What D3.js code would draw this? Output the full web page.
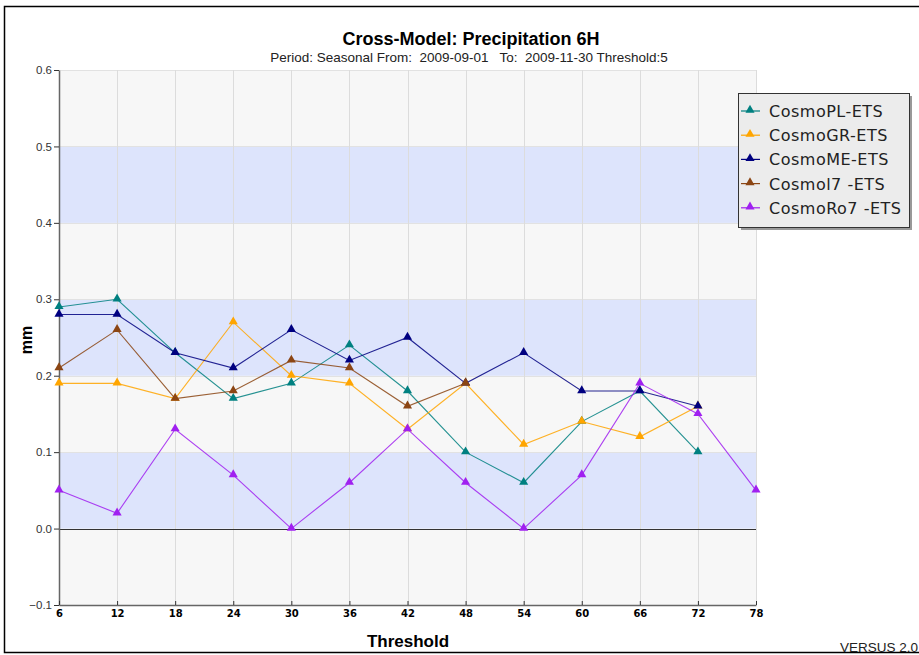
<!DOCTYPE html>
<html><head><meta charset="utf-8">
<script src="https://cdn.jsdelivr.net/npm/d3@7/dist/d3.min.js"></script>
<style>body{margin:0;background:#fff}svg{display:block}text{white-space:pre}</style>
</head><body>
<script>
const thresholds = [6,12,18,24,30,36,42,48,54,60,66,72,78];
const seriesNames = ["CosmoPL-ETS","CosmoGR-ETS","CosmoME-ETS","Cosmol7 -ETS","CosmoRo7 -ETS"];
const seriesColors = ["#008080","#ffa500","#000080","#8b4513","#a020f0"];
const cosmoPL  = [0.29,0.30,0.23,0.17,0.19,0.24,0.18,0.10,0.06,0.14,0.18,0.10,null];
const cosmoGR  = [0.19,0.19,0.17,0.27,0.20,0.19,0.13,0.19,0.11,0.14,0.12,0.16,null];
const cosmoME  = [0.28,0.28,0.23,0.21,0.26,0.22,0.25,0.19,0.23,0.18,0.18,0.16,null];
const cosmoI7  = [0.21,0.26,0.17,0.18,0.22,0.21,0.16,0.19,null,null,null,null,null];
const cosmoRo7 = [0.05,0.02,0.13,0.07,0.00,0.06,0.13,0.06,0.00,0.07,0.19,0.15,0.05];
const seriesValues = [cosmoPL, cosmoGR, cosmoME, cosmoI7, cosmoRo7];
const yTicks = [-0.1,0.0,0.1,0.2,0.3,0.4,0.5,0.6];
const bands = [[0,0.1],[0.2,0.3],[0.4,0.5]];

const W=919,H=655;
const svg=d3.select("body").append("svg").attr("width",W).attr("height",H);
const L=59,R=756,T=70,B=605;
const x=d3.scaleLinear().domain([6,78]).range([L,R]);
const y=d3.scaleLinear().domain([-0.1,0.6]).range([B,T]);

// outer frame
svg.append("rect").attr("x",4.5).attr("y",6.5).attr("width",W+10).attr("height",652-6).attr("fill","none").attr("stroke","#000").attr("stroke-width",1.5);

// plot bg
svg.append("rect").attr("x",L).attr("y",T).attr("width",R-L).attr("height",B-T).attr("fill","#f7f7f7");
svg.selectAll(".band").data(bands).enter().append("rect")
  .attr("x",L).attr("width",R-L).attr("y",d=>y(d[1])).attr("height",d=>y(d[0])-y(d[1])).attr("fill","#dde4fc");
// gridlines
svg.selectAll(".hg").data(yTicks).enter().append("line")
  .attr("x1",L).attr("x2",R).attr("y1",d=>Math.round(y(d))+0.5).attr("y2",d=>Math.round(y(d))+0.5)
  .attr("stroke","#e2e2e2").attr("stroke-width",1);
svg.selectAll(".vg").data(thresholds).enter().append("line")
  .attr("y1",T).attr("y2",B).attr("x1",d=>Math.round(x(d))+0.5).attr("x2",d=>Math.round(x(d))+0.5)
  .attr("stroke","#dcdcdc").attr("stroke-width",1);
// zero line
svg.append("line").attr("x1",L).attr("x2",R).attr("y1",Math.round(y(0))+0.5).attr("y2",Math.round(y(0))+0.5).attr("stroke","#333").attr("stroke-width",1.2);

// axes
const yAxis=d3.axisLeft(y).tickValues(yTicks).tickFormat(d3.format(".1f")).tickSize(5).tickSizeOuter(0);
const gy=svg.append("g").attr("transform",`translate(${L},0)`).call(yAxis);
gy.select(".domain").attr("stroke","#666").attr("stroke-width",1.5);
gy.selectAll(".tick line").attr("stroke","#333");
gy.selectAll(".tick text").attr("font-family","Liberation Sans, Arial, sans-serif").attr("font-size",11.5).attr("fill","#333").attr("x",-7);

const xAxis=d3.axisBottom(x).tickValues(thresholds).tickFormat(d3.format("d")).tickSize(4).tickSizeOuter(0);
const gx=svg.append("g").attr("transform",`translate(0,${B})`).call(xAxis);
gx.select(".domain").attr("stroke","#666").attr("stroke-width",1.5);
gx.selectAll(".tick line").attr("stroke","#333").attr("transform","translate(0,-4)");
gx.selectAll(".tick text").attr("font-family","DejaVu Sans, sans-serif").attr("font-weight","bold").attr("font-size",10).attr("fill","#000").attr("y",5);

// titles
svg.append("text").attr("x",471).attr("y",45).attr("text-anchor","middle").attr("font-family","Liberation Sans, Arial, sans-serif").attr("font-weight","bold").attr("font-size",18).text("Cross-Model: Precipitation 6H");
svg.append("text").attr("x",469).attr("y",62).attr("text-anchor","middle").attr("font-family","Liberation Sans, Arial, sans-serif").attr("font-size",13.5).attr("fill","#222").text("Period: Seasonal From:  2009-09-01   To:  2009-11-30 Threshold:5");
svg.append("text").attr("x",408).attr("y",647).attr("text-anchor","middle").attr("font-family","Liberation Sans, Arial, sans-serif").attr("font-weight","bold").attr("font-size",17).text("Threshold");
svg.append("text").attr("transform","translate(32,340) rotate(-90)").attr("text-anchor","middle").attr("font-family","Liberation Sans, Arial, sans-serif").attr("font-weight","bold").attr("font-size",16).text("mm");
svg.append("text").attr("x",840).attr("y",652).attr("font-family","Liberation Sans, Arial, sans-serif").attr("font-size",13.5).attr("fill","#222").text("VERSUS 2.0");

// lines
const tri=d3.symbol().type(d3.symbolTriangle).size(36);
seriesValues.forEach((vals,i)=>{
  const pts=thresholds.map((t,j)=>({t,v:vals[j]})).filter(d=>d.v!==null);
  const line=d3.line().x(d=>x(d.t)).y(d=>y(d.v));
  svg.append("path").datum(pts).attr("d",line).attr("fill","none").attr("stroke",seriesColors[i]).attr("stroke-width",1.1).attr("opacity",0.85);
  svg.selectAll(".m"+i).data(pts).enter().append("path").attr("d",tri)
    .attr("transform",d=>`translate(${x(d.t)},${y(d.v)-0.5})`).attr("fill",seriesColors[i]);
});

// legend
const lg=svg.append("g");
lg.append("rect").attr("x",741).attr("y",96).attr("width",171).attr("height",134).attr("fill","#999");
lg.append("rect").attr("x",738.5).attr("y",93.5).attr("width",171).attr("height",134).attr("fill","#ececec").attr("stroke","#333").attr("stroke-width",1);
seriesNames.forEach((n,i)=>{
  const cy=111+i*24.2;
  lg.append("line").attr("x1",741).attr("x2",760).attr("y1",cy).attr("y2",cy).attr("stroke",seriesColors[i]).attr("stroke-width",1.2);
  lg.append("path").attr("d",tri).attr("transform",`translate(750,${cy-1})`).attr("fill",seriesColors[i]);
  lg.append("text").attr("x",769).attr("y",cy+6).attr("font-family","DejaVu Sans, sans-serif").attr("font-size",16).attr("letter-spacing",0.5).attr("fill","#222").text(n);
});
</script>
</body></html>
